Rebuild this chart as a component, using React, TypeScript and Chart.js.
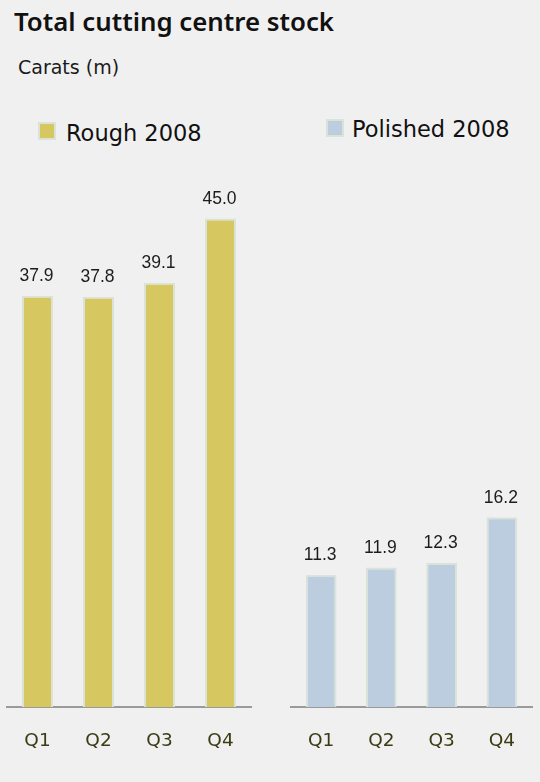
import React, { useEffect, useRef } from "react";
import { Chart, registerables } from "chart.js";

Chart.register(...registerables);

const quarters = ["Q1", "Q2", "Q3", "Q4"];
const rough2008 = [37.9, 37.8, 39.1, 45.0];
const polished2008 = [11.3, 11.9, 12.3, 16.2];
const roughAxisMax = 50.4;
const polishedAxisMax = 46.7;

const ROUGH_COLOR = "#d6c760";
const POLISHED_COLOR = "#bccde0";
const BAR_BORDER = "#d9e3d8";

const valueLabels = {
  id: "valueLabels",
  afterDatasetsDraw(chart: any) {
    const ctx = chart.ctx;
    const meta = chart.getDatasetMeta(0);
    const data = chart.data.datasets[0].data as number[];
    ctx.save();
    ctx.font = "17.5px 'Liberation Sans', Arial, sans-serif";
    ctx.fillStyle = "#1c1c1c";
    ctx.textAlign = "center";
    ctx.textBaseline = "alphabetic";
    meta.data.forEach((bar: any, i: number) => {
      ctx.fillText(Number(data[i]).toFixed(1), bar.x - 1, bar.y - 14.5);
    });
    ctx.restore();
  },
};

function makeConfig(
  label: string,
  values: number[],
  color: string,
  max: number,
  padLeft: number,
  padRight: number
): any {
  return {
    type: "bar",
    data: {
      labels: quarters,
      datasets: [
        {
          label,
          data: values,
          backgroundColor: color,
          borderColor: BAR_BORDER,
          borderWidth: 2,
          categoryPercentage: 1,
          barPercentage: 0.51,
        },
      ],
    },
    options: {
      responsive: false,
      animation: false,
      devicePixelRatio: 1,
      layout: { padding: { left: padLeft, right: padRight, top: 0, bottom: 3 } },
      plugins: { legend: { display: false }, tooltip: { enabled: false }, title: { display: false } },
      scales: {
        x: {
          grid: { display: false, drawTicks: false },
          border: { display: true, color: "#9a9a9a", width: 2 },
          ticks: {
            font: { family: "'DejaVu Sans', sans-serif", size: 18.5 },
            color: "#3b3b14",
            padding: 23,
            maxRotation: 0,
          },
          afterFit: (scale: any) => {
            scale.height = 50;
          },
        },
        y: { display: false, min: 0, max },
      },
    },
    plugins: [valueLabels],
  };
}

function BarPanel(props: {
  label: string;
  values: number[];
  color: string;
  max: number;
  left: number;
  padLeft: number;
  padRight: number;
}) {
  const ref = useRef<HTMLCanvasElement | null>(null);
  useEffect(() => {
    if (!ref.current) return;
    const chart = new Chart(
      ref.current,
      makeConfig(props.label, props.values, props.color, props.max, props.padLeft, props.padRight)
    );
    return () => chart.destroy();
  }, []);
  return (
    <canvas
      ref={ref}
      width={260}
      height={600}
      style={{ position: "absolute", left: props.left, top: 160, width: 260, height: 600, display: "block" }}
    />
  );
}

const textBase: React.CSSProperties = {
  position: "absolute",
  whiteSpace: "nowrap",
  lineHeight: 1,
  fontFamily: "'DejaVu Sans', sans-serif",
  color: "#111",
};

export default function App() {
  useEffect(() => {
    document.body.style.margin = "0";
    document.body.style.background = "#f0f0f0";
  }, []);
  return (
    <div style={{ position: "relative", width: 540, height: 782, background: "#f0f0f0", overflow: "hidden" }}>
      <div
        style={{
          ...textBase,
          left: 14,
          top: 9,
          fontSize: 25.8,
          fontWeight: 600,
          fontFamily: "'Noto Sans', 'DejaVu Sans', sans-serif",
        }}
      >
        Total cutting centre stock
      </div>
      <div style={{ ...textBase, left: 18, top: 58, fontSize: 19, color: "#1a1a1a" }}>Carats (m)</div>

      <div
        style={{
          position: "absolute",
          left: 38,
          top: 122,
          width: 14,
          height: 14,
          background: ROUGH_COLOR,
          border: `2px solid ${BAR_BORDER}`,
        }}
      />
      <div style={{ ...textBase, left: 66, top: 122, fontSize: 22.5 }}>Rough 2008</div>

      <div
        style={{
          position: "absolute",
          left: 326,
          top: 119,
          width: 14,
          height: 14,
          background: POLISHED_COLOR,
          border: `2px solid ${BAR_BORDER}`,
        }}
      />
      <div style={{ ...textBase, left: 352, top: 118, fontSize: 22.5 }}>Polished 2008</div>

      <BarPanel label="Rough 2008" values={rough2008} color={ROUGH_COLOR} max={roughAxisMax} left={0} padLeft={7} padRight={9} />
      <BarPanel
        label="Polished 2008"
        values={polished2008}
        color={POLISHED_COLOR}
        max={polishedAxisMax}
        left={280}
        padLeft={11}
        padRight={8}
      />
    </div>
  );
}
